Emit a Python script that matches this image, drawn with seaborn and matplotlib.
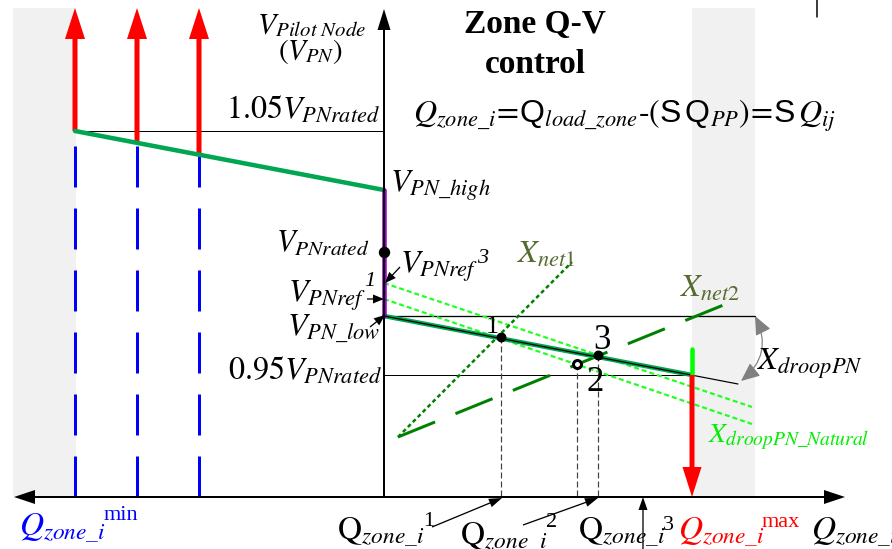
import matplotlib
matplotlib.use("Agg")
import matplotlib.pyplot as plt
import seaborn as sns
from matplotlib.patches import FancyArrowPatch, Rectangle, ArrowStyle

sns.set_theme(style="white")
plt.rcParams['font.family'] = ['Liberation Serif', 'DejaVu Serif']
plt.rcParams['mathtext.fontset'] = 'custom'
plt.rcParams['mathtext.rm'] = 'STIXGeneral'
plt.rcParams['mathtext.it'] = 'STIXGeneral:italic'
plt.rcParams['mathtext.bf'] = 'STIXGeneral:bold'
plt.rcParams['mathtext.sf'] = 'Liberation Sans'
plt.rcParams['mathtext.fallback'] = 'stix'
plt.rcParams['lines.scale_dashes'] = False

PX = 0.72  # points per pixel at 100 dpi

# ---------------- data (diagram units: Q to the right, V measured downward) -------------
origin_q = 384
axis_v = 497
q_left_limits = [75, 137, 199]          # reactive limits on the left side (red arrows / blue dashes)
v_left_limits = [131, 144, 156]         # where they sit on the upper droop line
upper_droop_q = [75, 384]
upper_droop_v = [131, 190]
v_high = 190
v_rated = 252
v_ref3 = 283
v_ref1 = 299
v_low = 316
v_105 = 131
v_095 = 375
lower_droop_q = [384, 692]
lower_droop_v = [316, 375]
droop_ext_q = [384, 738]
droop_ext_v = [316, 384]
natural_q = [384, 752]
natural_v_ref3 = [283, 407]
natural_v_ref1 = [299, 424]
net1_q = [398, 572]
net1_v = [437, 262]
net2_q = [398, 726]
net2_v = [437, 304]
op_q = [501, 577, 598]                  # operating points 1, 2, 3
op_v = [337, 364, 355]
op_labels = ["1", "2", "3"]
q_max = 692
q_max_top = 349
grey_bands = [(13, 76), (692, 755)]

# ---------------- figure ----------------
fig = plt.figure(figsize=(8.92, 5.49), dpi=100)
ax = fig.add_axes([0, 0, 1, 1])
ax.axis('off')

def arrow(p0, p1, color, tail_px, head_len_px, head_w_px, z=5):
    st = ArrowStyle('simple', head_length=head_len_px * PX, head_width=head_w_px * PX,
                    tail_width=tail_px * PX)
    a = FancyArrowPatch(p0, p1, arrowstyle=st, mutation_scale=1, lw=0, color=color,
                        shrinkA=0, shrinkB=0, zorder=z)
    ax.add_patch(a)

# grey bands
for x0, x1 in grey_bands:
    ax.add_patch(Rectangle((x0, 8), x1 - x0, axis_v - 8, color='#f1f1f1', lw=0, zorder=0))

# thin reference lines
ax.plot([q_left_limits[0], origin_q], [v_105, v_105], color='black', lw=1 * PX, zorder=2)
ax.plot([origin_q, grey_bands[1][1]], [v_low, v_low], color='black', lw=1.3 * PX, zorder=2)
ax.plot([origin_q, q_max], [v_095, v_095], color='black', lw=1 * PX, zorder=2)

# blue dashed limit lines
for q in q_left_limits:
    ax.plot([q, q], [146, axis_v], color='#0000ff', lw=3 * PX, dashes=(41 * PX, 21 * PX), zorder=3)

# red up arrows (left)
for q, v in zip(q_left_limits, v_left_limits):
    arrow((q, v), (q, 8), '#ff0000', 5, 31, 20, z=4)

# upper droop (green)
sns.lineplot(x=upper_droop_q, y=upper_droop_v, ax=ax, color='#00a651', lw=4.5 * PX, sort=False,
             zorder=5, estimator=None)

# purple vertical band on axis
ax.plot([origin_q, origin_q], [v_high, v_low], color='#9900cc', lw=4.5 * PX, zorder=6)

# natural droop lines (lime dotted)
for vv in (natural_v_ref3, natural_v_ref1):
    ax.plot(natural_q, vv, color='#22ff22', lw=2.2 * PX, dashes=(5 * PX, 3 * PX), zorder=4)

# network lines
ax.plot(net1_q, net1_v, color='#008000', lw=2.5 * PX, dashes=(4 * PX, 3 * PX), zorder=4)
ax.plot(net2_q, net2_v, color='#008000', lw=3 * PX, dashes=(40 * PX, 22 * PX), zorder=4)

# lower droop: green thick + black thin
sns.lineplot(x=lower_droop_q, y=lower_droop_v, ax=ax, color='#00a651', lw=4.5 * PX, sort=False,
             zorder=5, estimator=None)
ax.plot(droop_ext_q, droop_ext_v, color='black', lw=1.2 * PX, zorder=6)

# grey dashed projections
for q, v in zip(op_q, op_v):
    ax.plot([q, q], [v, axis_v], color='#444444', lw=1.2 * PX, dashes=(6 * PX, 3 * PX), zorder=3)

# operating points
ax.scatter(op_q[0::2], op_v[0::2], s=(8.5 * PX) ** 2, color='black', zorder=8)
ax.scatter([op_q[1]], [op_v[1]], s=(8 * PX) ** 2, facecolor='white', edgecolor='black',
           lw=3 * PX, zorder=8)
ax.scatter([origin_q], [v_rated], s=(10 * PX) ** 2, color='black', zorder=8)

# red down arrow at Qmax with lime top
ax.plot([q_max, q_max], [q_max_top, v_095], color='#00ff00', lw=4.5 * PX, zorder=6)
arrow((q_max, v_095), (q_max, axis_v), '#ff0000', 5, 30, 19, z=6)

# axes
ax.plot([origin_q, origin_q], [axis_v, 28], color='black', lw=2 * PX, zorder=7)
arrow((origin_q, 30), (origin_q, 9), 'black', 2, 21, 13, z=7)
arrow((origin_q, axis_v), (845, axis_v), 'black', 2, 21, 14, z=7)
arrow((origin_q, axis_v), (14, axis_v), 'black', 2, 21, 14, z=7)
ax.plot([817, 817], [0, 17], color='black', lw=1.5 * PX)

# curved grey double arrow (X_droopPN)
ca = FancyArrowPatch((741, 381), (755, 316), connectionstyle='arc3,rad=0.4',
                     arrowstyle=ArrowStyle('<|-|>', head_length=16 * PX, head_width=7 * PX),
                     mutation_scale=1, color='#808080', lw=1.2 * PX, shrinkA=0, shrinkB=0, zorder=7)
ax.add_patch(ca)

# small label arrows
arrow((400, 267), (385, 283), 'black', 1.3, 11, 9, z=8)
arrow((367, 299), (384, 299), 'black', 1.3, 11, 9, z=8)
arrow((370, 327), (385, 315), 'black', 1.3, 11, 9, z=8)
arrow((432, 527), (502, 498), 'black', 1.3, 13, 9, z=8)
arrow((523, 525), (598, 498), 'black', 1.3, 13, 9, z=8)
arrow((643, 549), (643, 497), 'black', 1.3, 13, 9, z=8)

# ---------------- texts ----------------
def t(x, y, s, size, color='black', ha='left', **kw):
    ax.text(x, y, s, fontsize=size, color=color, ha=ha, va='baseline', zorder=9, **kw)

t(312, 33, r"$V_{Pilot\ Node}$", 21.5, ha='center')
t(311, 59, r"$(V_{PN})$", 21, ha='center')
t(535, 33, "Zone Q-V", 24, ha='center', fontweight='bold')
t(535, 73, "control", 24, ha='center', fontweight='bold')
t(413, 123, r"$Q_{zone\_i}\!=\!\mathsf{Q}_{load\_zone}\mathrm{\text{-}(}\mathsf{S\,Q}_{PP}\mathrm{)}\!=\!\mathsf{S}\,Q_{ij}$", 23)
t(380, 119, r"$1.05V_{PNrated}$", 23, ha='right')
t(390, 192, r"$V_{PN\_high}$", 23)
t(370, 252, r"$V_{PNrated}$", 22, ha='right')
t(400, 273, r"$V_{PNref}$", 23)
t(477, 263, "3", 16, fontstyle='italic')
t(288, 302, r"$V_{PNref}$", 23)
t(364, 286, "1", 16, fontstyle='italic')
t(287, 336, r"$V_{PN\_low}$", 23)
t(382, 380, r"$0.95V_{PNrated}$", 23, ha='right')
t(486, 333, "1", 19)
t(587, 391, op_labels[1], 25)
t(593, 349, op_labels[2], 25)
t(517, 263, r"$X_{net1}$", 23, color='#556b2f')
t(680, 297, r"$X_{net2}$", 23, color='#556b2f')
t(757, 370, r"$X_{droopPN}$", 23)
t(708, 442, r"$X_{droopPN\_Natural}$", 20, color='#00ee00')

t(19, 536, r"$Q_{zone\_i}$", 24, color='#0000ff')
t(104, 520, "min", 16, color='#0000ff')
t(337, 540, r"$\mathrm{Q}_{zone\_i}$", 24)
t(423, 526, "1", 16)
t(460, 545, r"$\mathrm{Q}_{zone\_i}$", 24)
t(546, 527, "2", 16)
t(578, 540, r"$\mathrm{Q}_{zone\_i}$", 24)
t(663, 530, "3", 16)
t(678, 540, r"$Q_{zone\_i}$", 24, color='#ff0000')
t(762, 527, "max", 16, color='#ff0000')
t(811, 540, r"$Q_{zone\_i}$", 24)

ax.set_xlim(0, 892)
ax.set_ylim(549, 0)
fig.savefig("out.png", dpi=100)
